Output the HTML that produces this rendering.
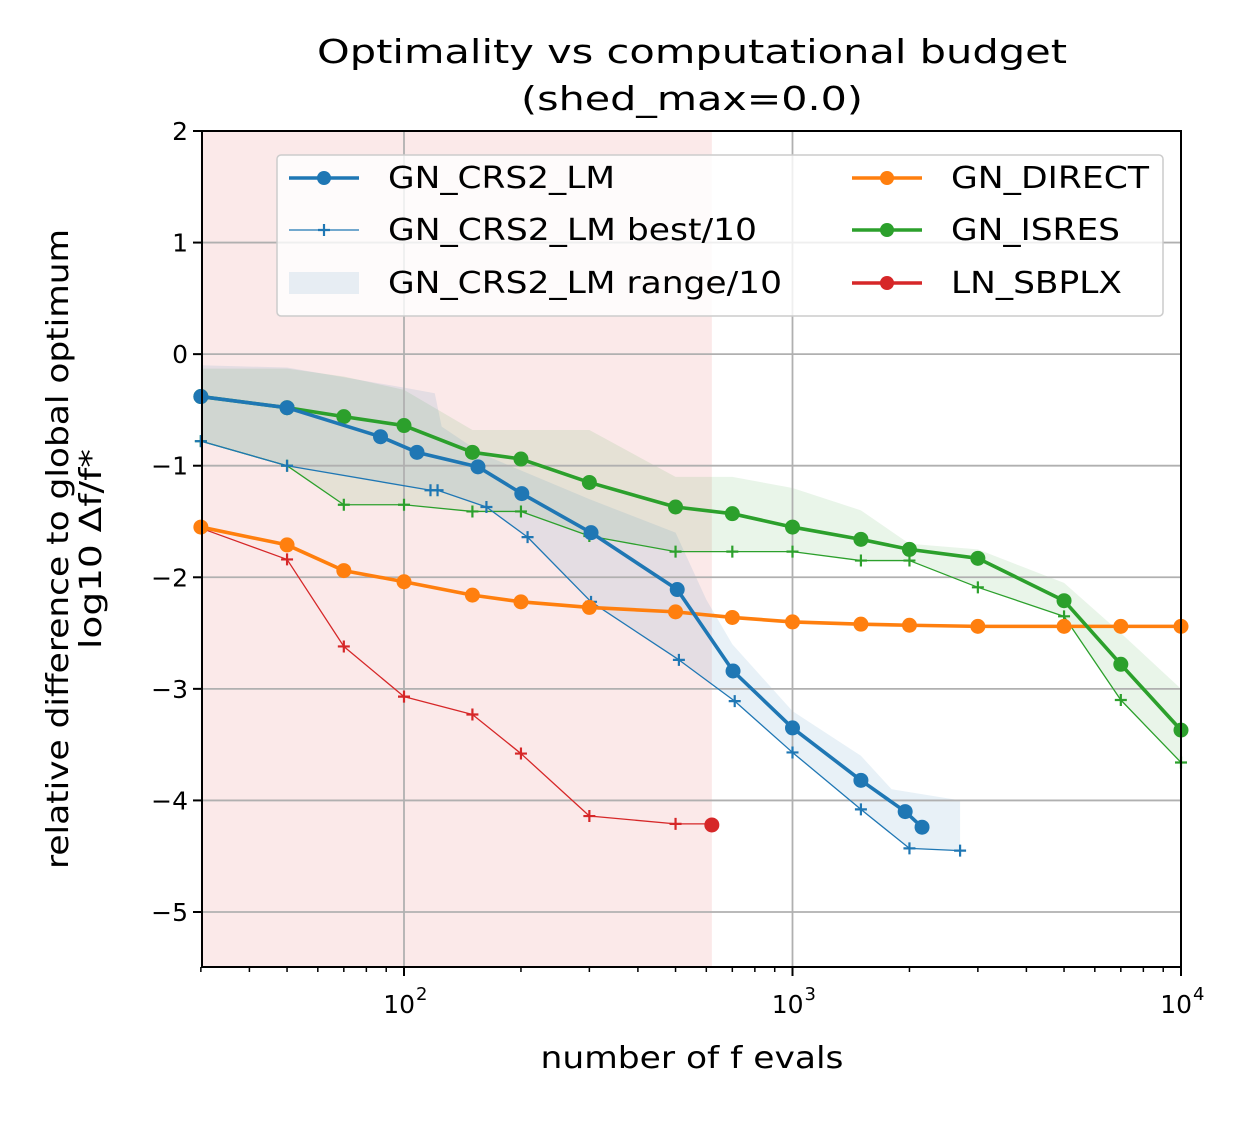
<!DOCTYPE html>
<html><head><meta charset="utf-8"><style>
html,body{margin:0;padding:0;background:#fff;}
svg{display:block;font-family:"DejaVu Sans","Liberation Sans",sans-serif;}
</style></head><body>
<svg id="chart" width="1250" height="1125" viewBox="0 0 1250 1125">
<g id="bands"></g><g id="grid"></g><g id="series"></g><g id="axes"></g>
</svg>
<script>
const xCats=[30,50,70,100,150,200,300,500,700,1000,1500,2000,3000,5000,7000,10000];
const directVals=[-1.55,-1.71,-1.94,-2.04,-2.16,-2.22,-2.27,-2.31,-2.36,-2.40,-2.42,-2.43,-2.44,-2.44,-2.44,-2.44];
const isresVals=[-0.38,-0.48,-0.56,-0.64,-0.88,-0.94,-1.15,-1.37,-1.43,-1.55,-1.66,-1.75,-1.83,-2.21,-2.78,-3.37];
const isresBest=[-0.78,-1.0,-1.35,-1.35,-1.41,-1.41,-1.63,-1.77,-1.77,-1.77,-1.85,-1.85,-2.09,-2.35,-3.1,-3.66];
const isresUpper=[-0.13,-0.13,-0.2,-0.32,-0.68,-0.68,-0.68,-1.1,-1.1,-1.2,-1.4,-1.7,-1.75,-2.05,-2.5,-3.0];
const crsX=[30,50,87,108,155,201,303,505,703,1000,1500,1950,2155];
const crsVals=[-0.38,-0.48,-0.74,-0.88,-1.01,-1.25,-1.6,-2.11,-2.84,-3.35,-3.82,-4.1,-4.24];
const crsBestX=[30,50,117,122,163,208,303,510,710,1000,1500,2000,2700];
const crsBestVals=[-0.78,-1.0,-1.22,-1.22,-1.37,-1.64,-2.22,-2.74,-3.11,-3.57,-4.08,-4.43,-4.45];
const crsBandX=[30,50,100,120,125,160,300,500,600,700,1000,1500,1800,2700];
const crsBandUpper=[-0.1,-0.12,-0.3,-0.35,-0.65,-0.9,-1.3,-1.6,-2.2,-2.6,-3.2,-3.6,-3.9,-4.0];
const sbplxBestX=[30,50,70,100,150,200,300,500,620];
const sbplxBestVals=[-1.56,-1.84,-2.62,-3.07,-3.23,-3.58,-4.14,-4.21,-4.21];
const sbplxX=[620];const sbplxVals=[-4.22];
const sbplxRangeX=[30,620];
const xTicks=[100,1000,10000];const xTickExp=["2","3","4"];
const yTicks=[2,1,0,-1,-2,-3,-4,-5];const yTickLabels=["2","1","0","\u22121","\u22122","\u22123","\u22124","\u22125"];

const L=202,R=1181,T=131,B=967;
const xs=v=>404+(Math.log10(v)-2)*388.5;
const ys=v=>131+(2-v)*111.57;
const NS="http://www.w3.org/2000/svg";
function mk(tag,attrs,parent,text){const e=document.createElementNS(NS,tag);for(const k in attrs)e.setAttribute(k,attrs[k]);if(text!==undefined)e.textContent=text;parent.appendChild(e);return e;}
const bands=document.getElementById('bands'),grid=document.getElementById('grid'),series=document.getElementById('series'),axes=document.getElementById('axes');

let r=mk('rect',{x:xs(sbplxRangeX[0]),y:T,width:xs(sbplxRangeX[1])-xs(sbplxRangeX[0]),height:B-T,fill:'#d62728','fill-opacity':0.1},bands);

function band(xa,up,xb,lo,color,name){let d='';xa.forEach((x,i)=>d+=(i?'L':'M')+xs(x)+','+ys(up[i]));for(let i=xb.length-1;i>=0;i--)d+='L'+xs(xb[i])+','+ys(lo[i]);d+='Z';const p=mk('path',{d:d,fill:color,'fill-opacity':0.1,stroke:'none'},bands);}
band(xCats,isresUpper,xCats,isresBest,'#2ca02c','gn-isres-range-band');
band(crsBandX,crsBandUpper,crsBestX,crsBestVals,'#1f77b4','gn-crs2-lm-range-band');

xTicks.forEach(t=>{const g=mk('line',{x1:xs(t),x2:xs(t),y1:T,y2:B,stroke:'#b0b0b0','stroke-width':1.8},grid);});
yTicks.forEach(t=>{const g=mk('line',{x1:L,x2:R,y1:ys(t),y2:ys(t),stroke:'#b0b0b0','stroke-width':1.8},grid);});

function line(xa,va,color,w,marker,name){const g=mk('g',{},series);
 mk('polyline',{points:xa.map((x,i)=>xs(x)+','+ys(va[i])).join(' '),fill:'none',stroke:color,'stroke-width':w,'stroke-linejoin':'round'},g);
 xa.forEach((x,i)=>{const cx=xs(x),cy=ys(va[i]);if(marker==='o'){const c=mk('circle',{cx:cx,cy:cy,r:7.5,fill:color},g);}else{const p=mk('path',{d:`M${cx-6},${cy}H${cx+6}M${cx},${cy-6}V${cy+6}`,stroke:color,'stroke-width':2.2},g);}});}
line(sbplxBestX,sbplxBestVals,'#d62728',1.3,'+','ln-sbplx-best-line');
line(xCats,isresBest,'#2ca02c',1.3,'+','gn-isres-best-line');
line(crsBestX,crsBestVals,'#1f77b4',1.3,'+','gn-crs2-lm-best-line');
line(xCats,directVals,'#ff7f0e',3.6,'o','gn-direct-line');
line(xCats,isresVals,'#2ca02c',3.6,'o','gn-isres-line');
line(crsX,crsVals,'#1f77b4',3.6,'o','gn-crs2-lm-line');
line(sbplxX,sbplxVals,'#d62728',3.6,'o','ln-sbplx-line');

mk('rect',{x:L,y:T,width:R-L,height:B-T,fill:'none',stroke:'#000','stroke-width':2},axes);
yTicks.forEach((t,i)=>{mk('line',{x1:L-9,x2:L,y1:ys(t),y2:ys(t),stroke:'#000','stroke-width':2},axes);
 const tx=mk('text',{x:L-14,y:ys(t)+9,'text-anchor':'end','font-size':25},axes,yTickLabels[i]);});
for(let d=1;d<=4;d++){for(let m=1;m<10;m++){const v=m*Math.pow(10,d);if(v<30||v>10000)continue;const x=xs(v);const major=(m===1);mk('line',{x1:x,x2:x,y1:B,y2:B+(major?9:5),stroke:'#000','stroke-width':major?2:1.5},axes);}}
xTicks.forEach((t,i)=>{const tx=mk('text',{x:xs(t)+11,y:B+46,'text-anchor':'end','font-size':25},axes,'10');
 mk('text',{x:xs(t)+12,y:B+33,'text-anchor':'start','font-size':18},axes,xTickExp[i]);});
function txt(a,s,len,name){const e=mk('text',Object.assign({'text-anchor':'middle',textLength:len,lengthAdjust:'spacingAndGlyphs'},a),axes,s);if(name){}return e;}
txt({x:692,y:1068,'font-size':30},'number of f evals',303,'x-axis-title');
txt({transform:'translate(68,549) rotate(-90)','font-size':30},'relative difference to global optimum',640,'y-axis-title');
txt({transform:'translate(101,549) rotate(-90)','font-size':30},'log10 \u0394f/f*',200,null);
txt({x:692,y:63,'font-size':33},'Optimality vs computational budget',750,'chart-title');
txt({x:692,y:110,'font-size':33},'(shed_max=0.0)',342,null);

const lg=mk('g',{},axes);
mk('rect',{x:277,y:155,width:886,height:161,rx:4,fill:'#fff','fill-opacity':0.8,stroke:'#ccc','stroke-width':1.5},lg);
const ent=[[289,178,'#1f77b4','o',3.6,'GN_CRS2_LM',227],[289,230,'#1f77b4','+',1.3,'GN_CRS2_LM best/10',369],[289,283,'#1f77b4','band',0,'GN_CRS2_LM range/10',394],[852,178,'#ff7f0e','o',3.6,'GN_DIRECT',198],[852,230,'#2ca02c','o',3.6,'GN_ISRES',169],[852,283,'#d62728','o',3.6,'LN_SBPLX',171]];
ent.forEach(e=>{const g=mk('g',{},lg);
 const [x,y,c,m,w,lab,len]=e;
 if(m==='band')mk('rect',{x:x,y:y-11,width:70,height:22,fill:c,'fill-opacity':0.1},g);
 else{mk('line',{x1:x,x2:x+70,y1:y,y2:y,stroke:c,'stroke-width':w},g);
  if(m==='o')mk('circle',{cx:x+35,cy:y,r:7,fill:c},g);else mk('path',{d:`M${x+29},${y}H${x+41}M${x+35},${y-6}V${y+6}`,stroke:c,'stroke-width':2.2},g);}
 mk('text',{x:x+99,y:y+10,'font-size':30,textLength:len,lengthAdjust:'spacingAndGlyphs'},g,lab);});
</script>
</body></html>
